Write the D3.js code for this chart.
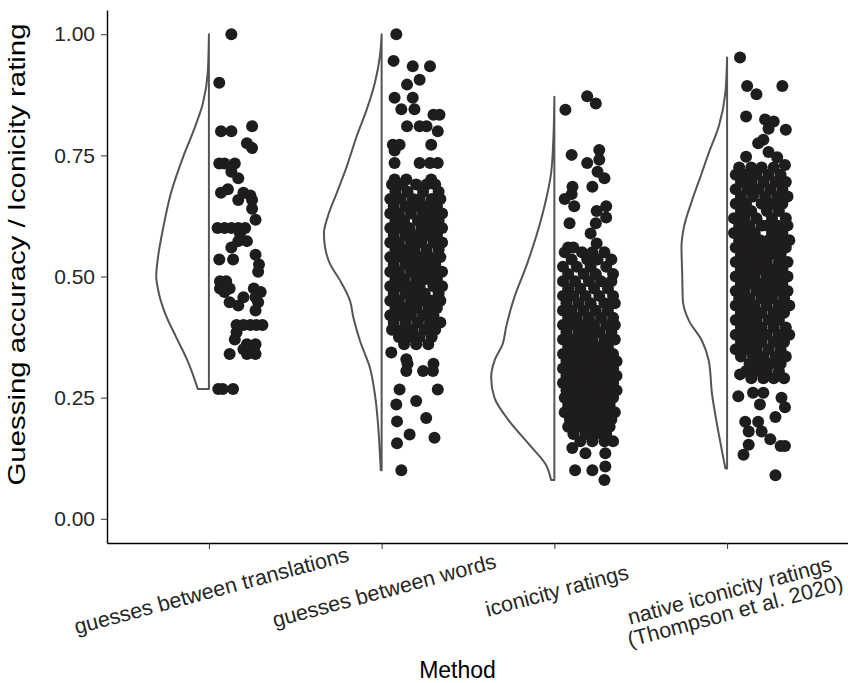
<!DOCTYPE html>
<html>
<head>
<meta charset="utf-8">
<script src="https://d3js.org/d3.v7.min.js"></script>
<style>
  body { margin: 0; background: #fff; }
  text { font-family: "Liberation Sans", Arial, sans-serif; }
  .tick line { stroke: #333; }
  .tick text { fill: #262626; font-size: 21px; }
  .domain { stroke: #000; stroke-width: 1.4px; }
</style>
</head>
<body>
<svg width="848" height="683"></svg>
<script>
const methods = ['translations', 'words', 'iconicity', 'native'];
const methodLabels = [
  ['guesses between translations'],
  ['guesses between words'],
  ['iconicity ratings'],
  ['native iconicity ratings', '(Thompson et al. 2020)']
];
const yTicks = [0, 0.25, 0.5, 0.75, 1];
const xLabel = 'Method';
const yLabel = 'Guessing accuracy / Iconicity rating';

// half violin outlines: [value, half width in category units]
const violinTranslations = [[1.0,0],[0.924,0.006],[0.857,0.035],[0.798,0.092],[0.746,0.15],[0.672,0.22],[0.598,0.266],[0.539,0.295],[0.501,0.305],[0.464,0.289],[0.42,0.249],[0.376,0.191],[0.324,0.121],[0.268,0.064]];
const violinWords = [[1.0,0],[0.955,0.01],[0.9,0.039],[0.844,0.087],[0.789,0.145],[0.727,0.202],[0.672,0.26],[0.63,0.306],[0.589,0.334],[0.561,0.328],[0.526,0.299],[0.492,0.241],[0.45,0.183],[0.416,0.164],[0.367,0.125],[0.312,0.068],[0.257,0.039],[0.187,0.019],[0.133,0.01],[0.10,0.005]];
const violinIconicity = [[0.871,0],[0.782,0.006],[0.713,0.019],[0.644,0.058],[0.582,0.106],[0.52,0.164],[0.458,0.231],[0.396,0.279],[0.361,0.299],[0.326,0.347],[0.291,0.366],[0.25,0.347],[0.201,0.26],[0.153,0.145],[0.111,0.048],[0.08,0.019]];
const violinNative = [[0.952,0],[0.879,0.01],[0.81,0.048],[0.755,0.106],[0.706,0.154],[0.658,0.202],[0.602,0.25],[0.561,0.264],[0.506,0.26],[0.45,0.256],[0.409,0.221],[0.367,0.145],[0.326,0.106],[0.257,0.087],[0.194,0.058],[0.139,0.029],[0.104,0.01]];

// jittered points: each row is [value, jitter, jitter, ...], jitter in category units right of the tick
const pointsTranslations = [
  [1.00,0.13],[0.90,0.06],[0.81,0.25],[0.80,0.07,0.13],[0.775,0.22],[0.765,0.25],
  [0.733,0.06,0.09,0.15],[0.716,0.13],[0.703,0.17],[0.68,0.11],[0.673,0.07,0.20],[0.667,0.24],
  [0.658,0.17,0.25],[0.64,0.25],[0.617,0.27],[0.60,0.05,0.09,0.13,0.17,0.21],[0.588,0.18],
  [0.573,0.17,0.22],[0.56,0.13],[0.545,0.27],[0.535,0.06,0.14],[0.525,0.29],[0.51,0.285],
  [0.49,0.064,0.10],[0.475,0.064,0.12,0.26],[0.468,0.09,0.30],[0.457,0.20,0.27],[0.447,0.12,0.285],
  [0.44,0.17],[0.43,0.27],[0.40,0.16,0.20,0.24,0.275,0.31],[0.385,0.16],[0.37,0.15],
  [0.36,0.22,0.27],[0.35,0.20,0.26],[0.34,0.12,0.22,0.27],[0.268,0.054,0.08,0.14]
];
const pointsWords = [
  [1.00,0.085],[0.945,0.069],[0.934,0.18,0.28],[0.906,0.22],[0.896,0.147],[0.869,0.075,0.18],
  [0.845,0.114,0.19],[0.834,0.30,0.335],[0.81,0.147,0.22,0.26],[0.80,0.325],[0.772,0.065,0.104,0.287],
  [0.76,0.075],[0.734,0.075,0.22,0.28,0.325],[0.70,0.075,0.143,0.287],
  [0.69,0.06,0.12,0.2,0.26,0.31],[0.675,0.08,0.15,0.24,0.33],[0.66,0.05,0.11,0.18,0.22,0.29,0.34],
  [0.645,0.07,0.14,0.2,0.26,0.32],[0.63,0.05,0.1,0.17,0.24,0.3,0.35],[0.615,0.08,0.13,0.21,0.27,0.33],
  [0.60,0.05,0.11,0.16,0.23,0.29,0.35],[0.585,0.07,0.14,0.2,0.26,0.32],[0.57,0.05,0.1,0.17,0.23,0.3,0.35],
  [0.555,0.08,0.13,0.19,0.26,0.33],[0.54,0.05,0.11,0.16,0.22,0.28,0.34],[0.525,0.07,0.14,0.2,0.25,0.31],
  [0.51,0.05,0.1,0.17,0.23,0.29,0.35],[0.495,0.08,0.13,0.2,0.26,0.32],[0.48,0.05,0.11,0.16,0.22,0.3,0.35],
  [0.465,0.07,0.14,0.19,0.25,0.33],[0.45,0.05,0.1,0.17,0.23,0.29,0.34],[0.435,0.08,0.14,0.2,0.27,0.32],
  [0.42,0.05,0.11,0.17,0.24,0.3],[0.405,0.07,0.14,0.21,0.28,0.34],[0.39,0.06,0.12,0.18,0.25,0.31],
  [0.375,0.1,0.16,0.22,0.29],[0.36,0.13,0.2,0.27],
  [0.343,0.056],[0.329,0.143],[0.32,0.15,0.30],[0.305,0.143,0.24,0.297],[0.267,0.104,0.325],
  [0.243,0.20],[0.236,0.085],[0.208,0.258],[0.201,0.089],[0.174,0.162],[0.167,0.306],[0.156,0.089],[0.10,0.114]
];
const pointsIconicity = [
  [0.872,0.19],[0.857,0.24],[0.844,0.064],[0.761,0.26],[0.751,0.10],[0.741,0.26],[0.734,0.19],
  [0.716,0.25],[0.703,0.29],[0.685,0.105,0.22],[0.67,0.10],[0.66,0.06],[0.645,0.115,0.30],
  [0.635,0.245],[0.622,0.30],[0.61,0.088,0.24],[0.589,0.21],[0.568,0.245],[0.56,0.08,0.11],
  [0.55,0.06,0.16,0.22,0.29],[0.535,0.1,0.19,0.25,0.33],[0.52,0.05,0.13,0.21,0.3],
  [0.505,0.08,0.17,0.24,0.34],[0.49,0.05,0.12,0.2,0.27,0.33],[0.475,0.08,0.15,0.23,0.31],
  [0.46,0.05,0.11,0.18,0.26,0.34],[0.445,0.07,0.14,0.21,0.29,0.35],[0.43,0.05,0.1,0.17,0.24,0.31],
  [0.415,0.08,0.13,0.2,0.27,0.34],[0.40,0.05,0.11,0.17,0.23,0.3,0.35],[0.385,0.07,0.14,0.2,0.26,0.33],
  [0.37,0.05,0.1,0.16,0.22,0.29,0.35],[0.355,0.08,0.13,0.19,0.25,0.31],[0.34,0.05,0.1,0.16,0.22,0.28,0.34],
  [0.325,0.07,0.13,0.19,0.25,0.31,0.36],[0.31,0.05,0.1,0.16,0.22,0.28,0.34],[0.295,0.07,0.13,0.19,0.25,0.31,0.36],
  [0.28,0.05,0.1,0.16,0.22,0.28,0.34],[0.265,0.07,0.13,0.19,0.25,0.31,0.36],[0.25,0.06,0.11,0.17,0.23,0.29,0.34],
  [0.235,0.08,0.14,0.2,0.26,0.32],[0.22,0.06,0.11,0.17,0.23,0.29,0.35],[0.205,0.09,0.15,0.21,0.27,0.33],
  [0.19,0.08,0.14,0.2,0.26,0.32],[0.175,0.11,0.18,0.24,0.3],[0.16,0.15,0.22,0.29,0.34],
  [0.146,0.104],[0.135,0.18,0.295],[0.108,0.295],[0.10,0.12,0.22],[0.08,0.29]
];
const pointsNative = [
  [0.952,0.075],[0.893,0.116,0.32],[0.876,0.17],[0.83,0.11],[0.824,0.22],[0.82,0.27],[0.805,0.24],
  [0.803,0.34],[0.782,0.21],[0.775,0.18],[0.757,0.24],[0.747,0.11],[0.746,0.29],[0.73,0.335],
  [0.725,0.07,0.14,0.2,0.27],[0.71,0.05,0.11,0.17,0.24,0.31],[0.695,0.08,0.14,0.21,0.28,0.34],
  [0.68,0.05,0.12,0.18,0.25,0.32],[0.665,0.08,0.15,0.22,0.29,0.35],[0.65,0.05,0.11,0.2,0.26,0.32],
  [0.635,0.08,0.14,0.23,0.3],[0.62,0.04,0.1,0.17,0.26,0.34],[0.605,0.07,0.13,0.2,0.23,0.29,0.35],
  [0.59,0.04,0.1,0.16,0.26,0.32],[0.575,0.07,0.13,0.19,0.24,0.3,0.36],[0.56,0.05,0.1,0.16,0.22,0.28,0.34],
  [0.545,0.08,0.13,0.19,0.25,0.31],[0.53,0.05,0.11,0.17,0.23,0.3,0.35],[0.515,0.08,0.14,0.2,0.26,0.32],
  [0.50,0.05,0.11,0.16,0.23,0.29,0.35],[0.485,0.08,0.14,0.2,0.26,0.32],[0.47,0.05,0.1,0.17,0.23,0.29,0.35],
  [0.455,0.07,0.13,0.2,0.26,0.33],[0.44,0.05,0.11,0.16,0.23,0.3,0.36],[0.425,0.08,0.14,0.2,0.27,0.33],
  [0.41,0.05,0.11,0.17,0.24,0.3],[0.395,0.08,0.14,0.2,0.27,0.34],[0.38,0.05,0.11,0.17,0.23,0.3,0.36],
  [0.365,0.08,0.14,0.2,0.27,0.33],[0.35,0.05,0.11,0.17,0.24,0.31],[0.335,0.08,0.15,0.21,0.28,0.34],
  [0.32,0.13,0.19,0.25,0.31],[0.305,0.11,0.17,0.23,0.3],[0.29,0.14,0.21,0.27,0.33],
  [0.298,0.075],[0.26,0.15,0.21],[0.253,0.065],[0.25,0.315],[0.236,0.19],[0.23,0.335],[0.21,0.28],
  [0.2,0.105,0.18],[0.18,0.125,0.2],[0.164,0.25],[0.153,0.125],[0.15,0.31,0.335],[0.132,0.095],[0.09,0.28]
];

const violins = [violinTranslations, violinWords, violinIconicity, violinNative];
const pointRows = [pointsTranslations, pointsWords, pointsIconicity, pointsNative];

const margin = { left: 107, right: 0, top: 10, bottom: 140 };
const svg = d3.select('svg');
const width = +svg.attr('width');
const height = +svg.attr('height');
const innerWidth = width - margin.left - margin.right;
const innerHeight = height - margin.top - margin.bottom;

const g = svg.append('g')
  .attr('transform', `translate(${margin.left},${margin.top})`);

// categories sit at 1..4 on a continuous axis so violins and jitter share one scale
const xScale = d3.scaleLinear().domain([0.41, 4.70]).range([0, innerWidth]);
const yScale = d3.scaleLinear().domain([-0.05, 1.05]).range([innerHeight, 0]);

const area = d3.area()
  .curve(d3.curveMonotoneY)
  .y(d => yScale(d[0]));

violins.forEach((v, i) => {
  const pos = i + 1;
  g.append('path')
    .datum(v)
    .attr('d', area.x0(() => xScale(pos)).x1(d => xScale(pos - d[1])))
    .attr('fill', '#fff')
    .attr('stroke', '#555')
    .attr('stroke-width', 2)
    .attr('stroke-linejoin', 'round');
});

const points = [];
pointRows.forEach((rows, i) => {
  rows.forEach(r => {
    r.slice(1).forEach(j => points.push({ method: methods[i], pos: i + 1, value: r[0], jitter: j }));
  });
});

g.selectAll('circle').data(points)
  .enter().append('circle')
    .attr('cx', d => xScale(d.pos + d.jitter))
    .attr('cy', d => yScale(d.value))
    .attr('r', 6)
    .attr('fill', '#1f1c1d');

g.append('g')
  .call(d3.axisLeft(yScale).tickValues(yTicks).tickFormat(d3.format('.2f'))
    .tickSize(6).tickPadding(6).tickSizeOuter(0));

const xAxisG = g.append('g')
  .attr('transform', `translate(0,${innerHeight})`)
  .call(d3.axisBottom(xScale).tickValues([1, 2, 3, 4]).tickFormat('')
    .tickSize(6).tickSizeOuter(0));
xAxisG.selectAll('.tick text').remove();

methodLabels.forEach((lines, i) => {
  const t = xAxisG.append('g')
    .attr('transform', `translate(${xScale(i + 1)},38) rotate(-15)`)
    .append('text')
      .attr('text-anchor', 'middle')
      .attr('fill', '#262626')
      .style('font-size', '21.5px');
  lines.forEach((s, k) => {
    t.append('tspan')
      .attr('x', 0)
      .attr('dy', k === 0 ? '0.8em' : '1.0em')
      .text(s);
  });
});

g.append('text')
  .attr('x', innerWidth * 0.473)
  .attr('y', innerHeight + 135)
  .attr('text-anchor', 'middle')
  .style('font-size', '23px')
  .text(xLabel);

g.append('text')
  .attr('transform', 'rotate(-90)')
  .attr('x', -(innerHeight / 2 - 22))
  .attr('y', -82)
  .attr('text-anchor', 'middle')
  .attr('textLength', 462)
  .attr('lengthAdjust', 'spacingAndGlyphs')
  .style('font-size', '24px')
  .text(yLabel);
</script>
</body>
</html>
